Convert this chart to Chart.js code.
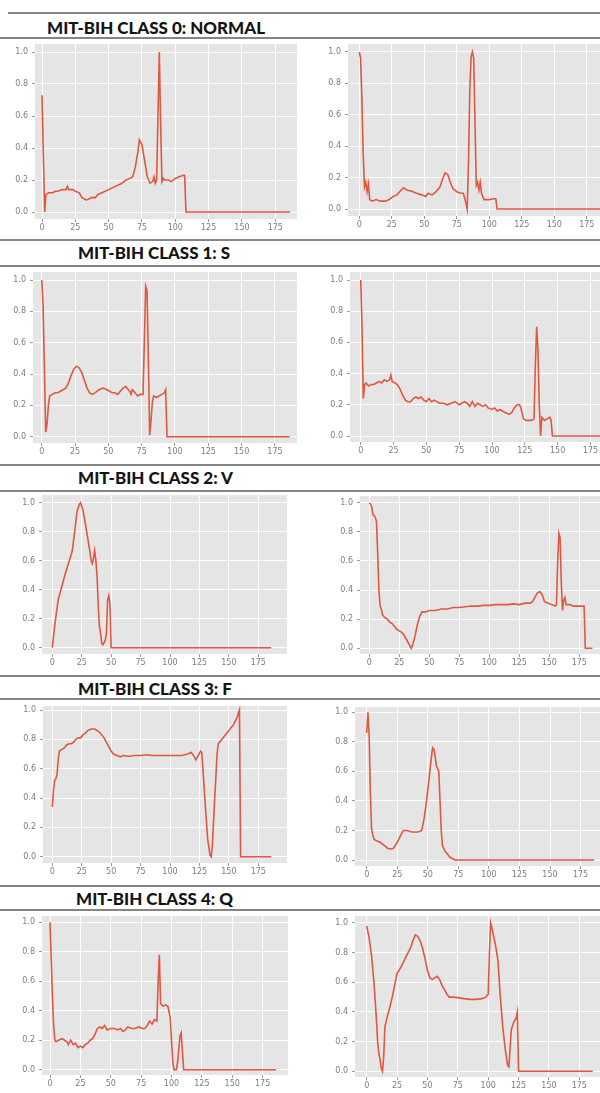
<!DOCTYPE html>
<html><head><meta charset="utf-8">
<script src="https://cdn.jsdelivr.net/npm/chart.js@4.4.0/dist/chart.umd.min.js"></script>
<style>
html,body{margin:0;padding:0;background:#fff;width:600px;height:1093px;overflow:hidden;position:relative}
.rule{position:absolute;left:0;width:600px;height:2px;background:#858585}
.title{position:absolute;font-family:Lato,'Open Sans',sans-serif;font-weight:900;font-size:17px;color:#141414;white-space:nowrap;transform-origin:0 50%;line-height:20px}
.panel{position:absolute}
.panel canvas{display:block}
</style></head><body>
<script>
// ---------- tick labels ----------
const xTickValues = [0, 25, 50, 75, 100, 125, 150, 175];
const yTickValues = [0, 0.2, 0.4, 0.6, 0.8, 1.0];

// ---------- section titles ----------
const sectionTitles = ['MIT-BIH CLASS 0: NORMAL', 'MIT-BIH CLASS 1: S', 'MIT-BIH CLASS 2: V', 'MIT-BIH CLASS 3: F', 'MIT-BIH CLASS 4: Q'];

// ---------- heartbeat samples [sample index, amplitude] ----------
const class0Left = [[0,0.73],[2,0.0],[3,0.11],[5,0.12],[8,0.12],[10,0.13],[12,0.13],[15,0.14],[18,0.14],[19,0.16],[20,0.14],[23,0.14],[25,0.13],[28,0.12],[30,0.09],[33,0.075],[35,0.08],[37,0.09],[40,0.09],[42,0.11],[45,0.12],[50,0.14],[55,0.16],[60,0.18],[63,0.2],[66,0.21],[68,0.22],[70,0.28],[72,0.38],[73,0.45],[75,0.42],[77,0.32],[79,0.22],[81,0.18],[83,0.19],[84,0.22],[85,0.18],[86,0.2],[87,0.6],[88,1.0],[89,0.55],[90,0.19],[91,0.21],[92,0.2],[95,0.2],[97,0.19],[100,0.21],[103,0.22],[106,0.23],[107,0.23],[108,0.0],[186,0.0]];
const class0Right = [[0,1.0],[1,0.96],[2,0.7],[3,0.35],[4,0.14],[5,0.17],[6,0.11],[7,0.16],[8,0.06],[10,0.05],[13,0.06],[16,0.05],[20,0.05],[23,0.06],[26,0.08],[29,0.09],[31,0.11],[34,0.135],[37,0.12],[40,0.115],[44,0.1],[48,0.09],[51,0.08],[53,0.1],[56,0.09],[59,0.11],[62,0.14],[64,0.19],[66,0.23],[68,0.22],[70,0.17],[72,0.13],[75,0.11],[78,0.1],[80,0.1],[82,0.04],[83,0.0],[84,0.3],[85,0.75],[86,0.97],[87,1.0],[88,0.96],[89,0.55],[90,0.15],[91,0.17],[92,0.12],[93,0.17],[94,0.1],[96,0.06],[100,0.06],[103,0.065],[105,0.065],[106,0.0],[186,0.0]];
const class1Left = [[0,1.0],[1,0.85],[2,0.45],[3,0.03],[4,0.08],[5,0.2],[6,0.26],[8,0.27],[10,0.28],[12,0.28],[14,0.29],[16,0.3],[18,0.31],[20,0.34],[22,0.39],[24,0.43],[26,0.45],[28,0.44],[30,0.41],[32,0.36],[34,0.31],[36,0.28],[38,0.27],[40,0.28],[43,0.3],[46,0.31],[49,0.3],[51,0.29],[53,0.28],[55,0.28],[57,0.27],[59,0.29],[61,0.31],[63,0.32],[65,0.3],[66,0.29],[67,0.27],[68,0.3],[70,0.28],[72,0.26],[74,0.27],[76,0.27],[77,0.6],[78,0.96],[79,0.93],[80,0.5],[81,0.01],[82,0.1],[83,0.22],[84,0.26],[86,0.25],[88,0.26],[90,0.27],[92,0.28],[93,0.3],[94,0.0],[186,0.0]];
const class1Right = [[0,1.0],[1,0.7],[2,0.24],[3,0.33],[4,0.34],[6,0.32],[8,0.33],[10,0.33],[12,0.34],[14,0.35],[16,0.34],[18,0.36],[20,0.35],[22,0.36],[23,0.39],[24,0.35],[26,0.34],[28,0.33],[30,0.3],[32,0.26],[34,0.23],[36,0.22],[38,0.22],[40,0.24],[42,0.25],[44,0.24],[46,0.25],[48,0.23],[50,0.22],[52,0.24],[54,0.22],[56,0.23],[58,0.22],[60,0.21],[63,0.21],[66,0.2],[69,0.21],[72,0.22],[75,0.2],[77,0.21],[79,0.22],[81,0.21],[83,0.19],[85,0.22],[87,0.19],[89,0.21],[91,0.2],[93,0.19],[95,0.2],[97,0.18],[100,0.17],[102,0.18],[104,0.16],[106,0.17],[108,0.16],[110,0.15],[113,0.14],[115,0.15],[117,0.18],[119,0.2],[121,0.2],[122,0.18],[124,0.11],[126,0.1],[128,0.1],[130,0.1],[132,0.11],[133,0.45],[134,0.7],[135,0.55],[136,0.2],[137,0.0],[138,0.12],[140,0.1],[142,0.11],[144,0.12],[145,0.1],[146,0.0],[186,0.0]];
const class2Left = [[0,0.0],[2,0.15],[5,0.33],[8,0.42],[11,0.51],[14,0.59],[16,0.64],[17,0.67],[19,0.8],[21,0.94],[23,0.99],[24,1.0],[26,0.95],[28,0.86],[30,0.76],[32,0.66],[33,0.6],[34,0.58],[35,0.62],[36,0.67],[37,0.6],[38,0.5],[39,0.3],[40,0.15],[41,0.1],[42,0.03],[43,0.02],[45,0.05],[46,0.1],[47,0.33],[48,0.36],[49,0.3],[50,0.0],[186,0.0]];
const class2Right = [[0,1.0],[1,0.99],[2,0.97],[3,0.92],[4,0.91],[5,0.9],[6,0.87],[7,0.65],[8,0.4],[9,0.29],[10,0.27],[11,0.23],[13,0.21],[15,0.2],[17,0.18],[19,0.17],[21,0.15],[23,0.13],[25,0.12],[27,0.11],[29,0.09],[31,0.06],[33,0.03],[35,0.0],[36,0.02],[38,0.08],[40,0.16],[42,0.22],[44,0.25],[47,0.25],[50,0.26],[55,0.26],[60,0.27],[65,0.27],[70,0.28],[75,0.28],[80,0.285],[85,0.29],[90,0.29],[95,0.295],[100,0.295],[105,0.3],[110,0.3],[115,0.3],[120,0.305],[125,0.3],[130,0.31],[134,0.31],[136,0.32],[138,0.35],[140,0.38],[142,0.39],[144,0.37],[146,0.32],[149,0.31],[152,0.3],[155,0.29],[156,0.3],[157,0.6],[158,0.79],[159,0.76],[160,0.45],[161,0.26],[162,0.33],[163,0.35],[164,0.3],[167,0.3],[170,0.29],[175,0.29],[179,0.29],[180,0.0],[186,0.0]];
const class3Left = [[0,0.34],[1,0.45],[2,0.52],[3,0.53],[4,0.56],[5,0.66],[6,0.72],[8,0.73],[10,0.74],[12,0.76],[14,0.77],[16,0.77],[18,0.78],[20,0.8],[22,0.81],[24,0.81],[26,0.83],[28,0.84],[30,0.86],[33,0.87],[36,0.87],[38,0.86],[40,0.85],[42,0.83],[44,0.81],[46,0.78],[48,0.75],[50,0.72],[52,0.7],[55,0.69],[58,0.68],[60,0.69],[65,0.685],[70,0.69],[75,0.69],[80,0.695],[85,0.69],[90,0.69],[95,0.69],[100,0.69],[105,0.69],[110,0.69],[115,0.7],[118,0.71],[120,0.69],[122,0.66],[124,0.69],[126,0.72],[127,0.71],[128,0.6],[130,0.35],[132,0.12],[134,0.01],[135,0.0],[136,0.08],[138,0.4],[140,0.7],[141,0.77],[143,0.79],[146,0.82],[150,0.86],[154,0.9],[157,0.95],[159,1.0],[160,0.0],[186,0.0]];
const class3Right = [[0,0.86],[1,1.0],[2,0.85],[3,0.45],[4,0.21],[5,0.17],[6,0.14],[8,0.13],[11,0.12],[14,0.1],[17,0.08],[20,0.075],[22,0.08],[25,0.12],[28,0.17],[30,0.2],[33,0.2],[37,0.19],[42,0.19],[45,0.2],[47,0.28],[49,0.4],[51,0.55],[53,0.7],[54,0.76],[55,0.75],[56,0.7],[57,0.64],[59,0.6],[60,0.4],[61,0.2],[62,0.1],[64,0.06],[66,0.04],[68,0.02],[72,0.0],[186,0.0]];
const class4Left = [[0,1.0],[1,0.75],[2,0.5],[3,0.3],[4,0.2],[5,0.19],[7,0.2],[10,0.21],[12,0.2],[14,0.19],[15,0.17],[17,0.2],[19,0.17],[21,0.18],[23,0.15],[25,0.16],[27,0.15],[29,0.17],[31,0.18],[33,0.2],[35,0.21],[37,0.24],[39,0.28],[41,0.29],[43,0.28],[45,0.3],[47,0.27],[50,0.28],[53,0.28],[56,0.27],[58,0.28],[60,0.26],[62,0.27],[64,0.29],[67,0.28],[70,0.28],[73,0.29],[76,0.28],[78,0.28],[80,0.3],[82,0.33],[84,0.31],[86,0.34],[88,0.33],[89,0.6],[90,0.78],[91,0.45],[93,0.43],[95,0.44],[97,0.43],[99,0.35],[100,0.2],[101,0.06],[102,0.0],[104,0.0],[105,0.05],[107,0.23],[108,0.25],[109,0.12],[110,0.0],[186,0.0]];
const class4Right = [[0,0.98],[2,0.9],[4,0.78],[6,0.6],[8,0.35],[9,0.2],[10,0.12],[11,0.08],[12,0.02],[13,0.0],[14,0.1],[15,0.3],[17,0.37],[19,0.43],[21,0.5],[23,0.58],[25,0.66],[28,0.7],[31,0.75],[34,0.8],[36,0.83],[38,0.88],[39,0.9],[40,0.92],[42,0.91],[44,0.88],[46,0.83],[48,0.76],[50,0.68],[52,0.63],[54,0.62],[56,0.63],[58,0.64],[60,0.62],[62,0.58],[64,0.55],[66,0.52],[68,0.5],[72,0.5],[76,0.495],[80,0.49],[85,0.485],[90,0.485],[95,0.49],[98,0.5],[100,0.52],[101,0.8],[102,1.0],[103,0.97],[104,0.93],[106,0.85],[108,0.75],[110,0.5],[112,0.3],[114,0.15],[116,0.04],[117,0.03],[118,0.15],[119,0.28],[121,0.33],[123,0.36],[124,0.4],[125,0.0],[186,0.0]];

// ---------- page layout (pixels) ----------
const rules = [[13,8],[38,0],[240,0],[266,0],[465,0],[491,0],[676,0],[699,0],[886,0],[910,0]];
const titleBoxes = [[47,28,218],[78,253,152],[78,478,155],[78,689,154],[76,899,157]];
// plot box: L,T,R,B, pixel of x=0, px per sample, pixel of y=1, pixel of y=0
const panels = [
  {data:class0Left,  L:35, T:44, R:297,B:219, x0:42,   sx:1.333, y1:52,    y0:212,    padR:4},
  {data:class0Right, L:348,T:44, R:600,B:216, x0:359.3,sx:1.3,   y1:52,    y0:209,    padR:0},
  {data:class1Left,  L:33, T:272,R:297,B:443, x0:41.7, sx:1.333, y1:280,   y0:436.7,  padR:4},
  {data:class1Right, L:350,T:272,R:600,B:442, x0:360.7,sx:1.313, y1:280,   y0:436,    padR:0},
  {data:class2Left,  L:42, T:495,R:287,B:654, x0:52.3, sx:1.177, y1:502.7, y0:647.7,  padR:4},
  {data:class2Right, L:360,T:496,R:600,B:654, x0:369.3,sx:1.2,   y1:502.7, y0:648.3,  padR:0},
  {data:class3Left,  L:43, T:706,R:287,B:863, x0:52.3, sx:1.177, y1:710,   y0:856.7,  padR:4},
  {data:class3Right, L:355,T:707,R:600,B:866, x0:366.7,sx:1.222, y1:712.3, y0:860,    padR:0},
  {data:class4Left,  L:42, T:916,R:288,B:1075,x0:50,   sx:1.215, y1:922.3, y0:1069.7, padR:4},
  {data:class4Right, L:355,T:916,R:600,B:1077,x0:366.7,sx:1.215, y1:923,   y0:1071.3, padR:0}
];

rules.forEach(([y,x])=>{const d=document.createElement('div');d.className='rule';d.style.top=(y-1)+'px';d.style.left=x+'px';d.style.width=(600-x)+'px';document.body.appendChild(d);});

sectionTitles.forEach((t,i)=>{
  const [x,cy,w] = titleBoxes[i];
  const d=document.createElement('div');d.className='title';d.textContent=t;
  d.style.left=x+'px';d.style.top=(cy-10)+'px';
  document.body.appendChild(d);
  const nat = d.getBoundingClientRect().width;
  d.style.transform='scaleX('+(w/nat)+')';
});

const bgPlugin = {id:'plotbg', beforeDraw(c){const a=c.chartArea,ctx=c.ctx;ctx.save();ctx.fillStyle='#e5e5e5';ctx.fillRect(a.left,a.top,a.right-a.left,a.bottom-a.top);ctx.restore();}};

const yW = 30, xH = 18, padT = 10;
panels.forEach(p=>{
  const W = p.R - p.L + yW + p.padR, H = p.B - p.T + xH + padT;
  const div=document.createElement('div');div.className='panel';
  div.style.left=(p.L-yW)+'px';div.style.top=(p.T-padT)+'px';
  const cv=document.createElement('canvas');cv.width=W;cv.height=H;cv.style.width=W+'px';cv.style.height=H+'px';
  div.appendChild(cv);document.body.appendChild(div);
  const xmin = -(p.x0-p.L)/p.sx, xmax=(p.R-p.x0)/p.sx;
  const yr = p.y0-p.y1, ymin = -(p.B-p.y0)/yr, ymax = 1+(p.y1-p.T)/yr;
  const tickFont = {size:8, family:'DejaVu Sans'};
  new Chart(cv,{
    type:'line',
    data:{datasets:[{data:p.data.map(([x,y])=>({x,y})), borderColor:'#DF5840', borderWidth:1.6, pointRadius:0, tension:0, fill:false}]},
    options:{
      responsive:false, animation:false, devicePixelRatio:1,
      layout:{padding:{left:0,right:p.padR,top:padT,bottom:0}},
      plugins:{legend:{display:false},tooltip:{enabled:false}},
      scales:{
        x:{type:'linear',min:xmin,max:xmax,
           afterBuildTicks:s=>{s.ticks=xTickValues.map(v=>({value:v}));},
           afterFit:s=>{s.height=xH;},
           ticks:{font:tickFont,color:'#7d7d7d',padding:1,maxRotation:0,autoSkip:false,callback:v=>String(v)},
           grid:{color:'#ffffff',lineWidth:1,tickLength:3,tickColor:'#9a9a9a'},
           border:{display:false}},
        y:{type:'linear',min:ymin,max:ymax,
           afterBuildTicks:s=>{s.ticks=yTickValues.map(v=>({value:v}));},
           afterFit:s=>{s.width=yW;},
           ticks:{font:tickFont,color:'#7d7d7d',padding:4,callback:v=>Number(v).toFixed(1)},
           grid:{color:'#ffffff',lineWidth:1,tickLength:3,tickColor:'#9a9a9a'},
           border:{display:false}}
      }
    },
    plugins:[bgPlugin]
  });
});
</script>
</body></html>
